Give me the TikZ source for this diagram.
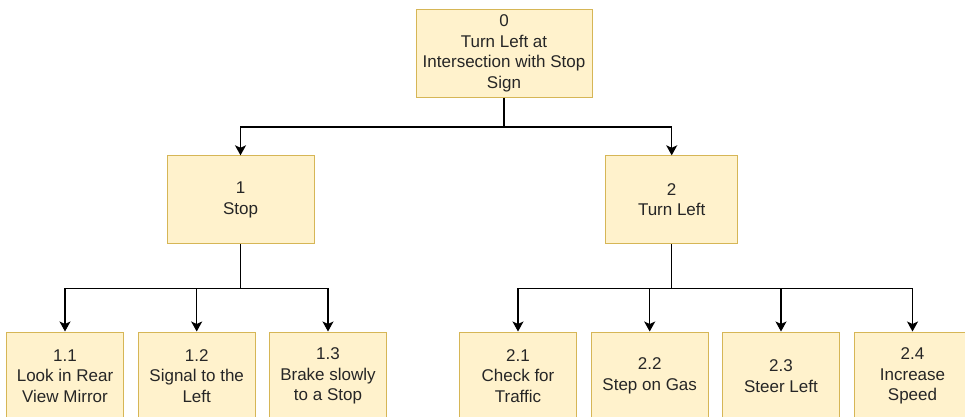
\documentclass[tikz,border=0pt]{standalone}
\usepackage{fontspec}
\setmainfont{Liberation Sans}
\usetikzlibrary{arrows.meta}

\definecolor{taskfill}{RGB}{255,242,204}
\definecolor{taskline}{RGB}{214,182,86}

\tikzset{every picture/.style={line width=1pt}}
\tikzset{
  task/.style={draw=taskline, fill=taskfill, line width=1pt, align=center,
    inner sep=0pt, font=\fontsize{17}{20.5}\selectfont, text=black!85},
  link/.style={draw=black, line width=1.1pt, -{Stealth[length=10pt,width=11pt,inset=2.5pt]}}
}

\begin{document}
\begin{tikzpicture}[x=1pt,y=1pt,yscale=-1,xscale=1]
	\useasboundingbox (0,0) rectangle (965,417);

	%Shape: Rectangle [root]
	\node [task, minimum width=176, minimum height=88] (root) at (504,53.5) {0\\Turn Left at\\Intersection with Stop\\Sign};

	%Shape: Rectangle [level 1]
	\node [task, minimum width=147, minimum height=88] (stop) at (240.5,199.8) {1\\Stop};
	\node [task, minimum width=132, minimum height=88] (turn) at (671.7,199.8) {2\\Turn Left};

	%Shape: Rectangle [level 2]
	\node [task, minimum width=117, minimum height=88] (mirror) at (65,376) {1.1\\Look in Rear\\View Mirror};
	\node [task, minimum width=117, minimum height=88] (signal) at (196.7,376) {1.2\\Signal to the\\Left};
	\node [task, minimum width=117, minimum height=88] (brake) at (328,376) {1.3\\Brake slowly\\to a Stop};
	\node [task, minimum width=117, minimum height=88] (traffic) at (518,376) {2.1\\Check for\\Traffic};
	\node [task, minimum width=117, minimum height=88] (gas) at (649.7,376) {2.2\\Step on Gas};
	\node [task, minimum width=117, minimum height=88] (steer) at (781,376) {2.3\\Steer Left};
	\node [task, minimum width=117, minimum height=88] (speed) at (912.5,376) {2.4\\Increase\\Speed};

	%Connectors
	\foreach \child in {stop,turn}
		\draw [link] (root.south) -- ++(0,29) -| (\child.north);
	\foreach \child in {mirror,signal,brake}
		\draw [link] (stop.south) -- ++(0,44) -| (\child.north);
	\foreach \child in {traffic,gas,steer,speed}
		\draw [link] (turn.south) -- ++(0,44) -| (\child.north);

\end{tikzpicture}
\end{document}
